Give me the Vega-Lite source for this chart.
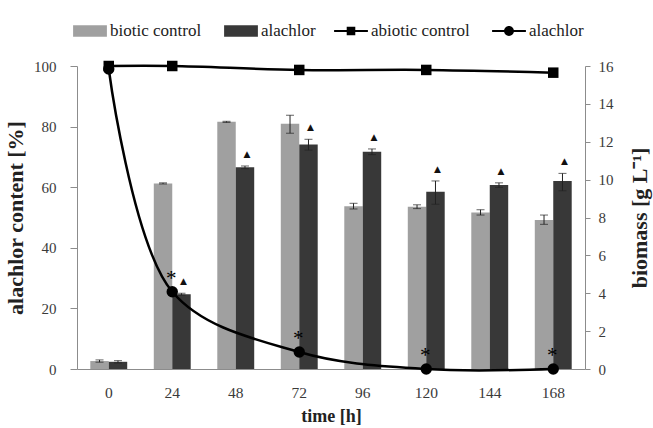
{
  "$schema": "https://vega.github.io/schema/vega-lite/v6.json",
  "autosize": {"type": "none"},
  "padding": {"left": 77, "top": 66, "right": 68, "bottom": 59},
  "width": 508,
  "height": 303,
  "background": "white",
  "config": {
    "view": {"stroke": null},
    "axis": {
      "labelFont": "Liberation Serif",
      "labelFontSize": 15,
      "labelColor": "#3a3a3a",
      "titleFont": "Liberation Serif",
      "titleFontSize": 18,
      "titleFontWeight": "bold",
      "titleColor": "#222222",
      "domainColor": "#8c8c8c",
      "tickColor": "#8c8c8c",
      "grid": false
    },
    "legend": {
      "labelFont": "Liberation Serif",
      "labelFontSize": 17,
      "labelColor": "#222222"
    }
  },
  "datasets": {
    "bars": [
      {"time": 0, "series": "biotic control", "biomass": 0.42, "lo": 0.36, "hi": 0.48, "sig": ""},
      {"time": 0, "series": "alachlor", "biomass": 0.38, "lo": 0.32, "hi": 0.44, "sig": ""},
      {"time": 24, "series": "biotic control", "biomass": 9.8, "lo": 9.77, "hi": 9.83, "sig": ""},
      {"time": 24, "series": "alachlor", "biomass": 3.95, "lo": 3.9, "hi": 4.0, "sig": "▲"},
      {"time": 48, "series": "biotic control", "biomass": 13.05, "lo": 13.02, "hi": 13.08, "sig": ""},
      {"time": 48, "series": "alachlor", "biomass": 10.65, "lo": 10.58, "hi": 10.72, "sig": "▲"},
      {"time": 72, "series": "biotic control", "biomass": 12.95, "lo": 12.45, "hi": 13.4, "sig": ""},
      {"time": 72, "series": "alachlor", "biomass": 11.86, "lo": 11.56, "hi": 12.13, "sig": "▲"},
      {"time": 96, "series": "biotic control", "biomass": 8.6, "lo": 8.45, "hi": 8.75, "sig": ""},
      {"time": 96, "series": "alachlor", "biomass": 11.47, "lo": 11.32, "hi": 11.62, "sig": "▲"},
      {"time": 120, "series": "biotic control", "biomass": 8.57, "lo": 8.47, "hi": 8.67, "sig": ""},
      {"time": 120, "series": "alachlor", "biomass": 9.36, "lo": 8.7, "hi": 9.93, "sig": "▲"},
      {"time": 144, "series": "biotic control", "biomass": 8.27, "lo": 8.13, "hi": 8.41, "sig": ""},
      {"time": 144, "series": "alachlor", "biomass": 9.71, "lo": 9.59, "hi": 9.83, "sig": "▲"},
      {"time": 168, "series": "biotic control", "biomass": 7.87, "lo": 7.64, "hi": 8.13, "sig": ""},
      {"time": 168, "series": "alachlor", "biomass": 9.93, "lo": 9.41, "hi": 10.33, "sig": "▲"}
    ],
    "lines": [
      {"time": 0, "series": "abiotic control", "content": 100, "sig": ""},
      {"time": 24, "series": "abiotic control", "content": 100, "sig": ""},
      {"time": 72, "series": "abiotic control", "content": 98.7, "sig": ""},
      {"time": 120, "series": "abiotic control", "content": 98.7, "sig": ""},
      {"time": 168, "series": "abiotic control", "content": 97.8, "sig": ""},
      {"time": 0, "series": "alachlor", "content": 99, "sig": ""},
      {"time": 24, "series": "alachlor", "content": 25.5, "sig": "*"},
      {"time": 72, "series": "alachlor", "content": 5.6, "sig": "*"},
      {"time": 120, "series": "alachlor", "content": 0, "sig": "*"},
      {"time": 168, "series": "alachlor", "content": 0, "sig": "*"}
    ]
  },
  "encoding": {
    "x": {
      "field": "time",
      "type": "ordinal",
      "scale": {"type": "band", "domain": [0, 24, 48, 72, 96, 120, 144, 168], "paddingInner": 0, "paddingOuter": 0},
      "axis": {"title": "time [h]", "labelAngle": 0, "ticks": false, "labelPadding": 16, "titlePadding": 7, "labelFont": "Liberation Serif", "labelFontSize": 15.5}
    }
  },
  "layer": [
    {
      "data": {"name": "bars"},
      "encoding": {
        "y": {
          "type": "quantitative",
          "scale": {"domain": [0, 16], "nice": false},
          "axis": {"orient": "right", "title": "biomass [g L⁻¹]", "titleFontSize": 22, "values": [0, 2, 4, 6, 8, 10, 12, 14, 16], "titleAngle": 270, "titlePadding": 38, "tickSize": 5, "labelPadding": 8, "labelFont": "Liberation Serif"}
        },
        "xOffset": {"field": "series", "type": "nominal", "scale": {"domain": ["biotic control", "alachlor"], "paddingOuter": 0.72, "paddingInner": 0}}
      },
      "layer": [
        {
          "mark": {"type": "bar"},
          "encoding": {
            "y": {"field": "biomass"},
            "color": {
              "field": "series",
              "type": "nominal",
              "scale": {"domain": ["biotic control", "alachlor"], "range": ["#a0a0a0", "#383838"]},
              "legend": {
                "title": null,
                "orient": "none",
                "legendX": 0,
                "legendY": -48,
                "direction": "horizontal",
                "symbolType": "M-1.3,-0.45H1.3V0.45H-1.3Z",
                "symbolSize": 676,
                "symbolStrokeWidth": 0,
                "labelOffset": 7,
                "columnPadding": 22,
                "labelFont": "Liberation Serif",
                "labelFontSize": 17
              }
            }
          }
        },
        {
          "mark": {"type": "rule", "color": "#222222", "strokeWidth": 1},
          "encoding": {"y": {"field": "lo"}, "y2": {"field": "hi"}}
        },
        {
          "mark": {"type": "tick", "color": "#222222", "thickness": 1, "size": 8, "orient": "horizontal"},
          "encoding": {"y": {"field": "lo"}}
        },
        {
          "mark": {"type": "tick", "color": "#222222", "thickness": 1, "size": 8, "orient": "horizontal"},
          "encoding": {"y": {"field": "hi"}}
        },
        {
          "mark": {"type": "text", "font": "DejaVu Sans", "fontSize": 9, "baseline": "bottom", "dy": -7, "dx": 2, "color": "#111111"},
          "encoding": {"y": {"field": "hi"}, "text": {"field": "sig"}}
        }
      ]
    },
    {
      "data": {"name": "lines"},
      "encoding": {
        "y": {
          "field": "content",
          "type": "quantitative",
          "scale": {"domain": [0, 100], "nice": false},
          "axis": {"orient": "left", "title": "alachlor content [%]", "titleFontSize": 22, "values": [0, 20, 40, 60, 80, 100], "tickSize": 7, "labelPadding": 14, "titlePadding": 6, "labelFont": "Liberation Serif"}
        }
      },
      "layer": [
        {
          "mark": {"type": "point", "opacity": 0, "filled": true, "color": "black"},
          "encoding": {
            "shape": {
              "field": "series",
              "type": "nominal",
              "scale": {
                "domain": ["abiotic control", "alachlor"],
                "range": [
                  "M-1.3,-0.07H1.3V0.07H-1.3Z M-0.33,-0.33H0.33V0.33H-0.33Z",
                  "M-1.3,-0.07H1.3V0.07H-1.3Z M-0.38,0A0.38,0.38,0,1,1,0.38,0A0.38,0.38,0,1,1,-0.38,0Z"
                ]
              },
              "legend": {
                "title": null,
                "orient": "none",
                "legendX": 261,
                "legendY": -48,
                "direction": "horizontal",
                "symbolSize": 676,
                "symbolFillColor": "black",
                "symbolStrokeWidth": 0,
                "symbolOpacity": 1,
                "labelOffset": 7,
                "columnPadding": 22,
                "labelFont": "Liberation Serif",
                "labelFontSize": 17
              }
            }
          }
        },
        {
          "mark": {"type": "line", "color": "black", "strokeWidth": 2.5, "interpolate": "catmull-rom"},
          "encoding": {"detail": {"field": "series", "type": "nominal"}}
        },
        {
          "transform": [{"filter": "datum.series === 'abiotic control'"}],
          "mark": {"type": "point", "shape": "square", "filled": true, "color": "black", "opacity": 1, "size": 110},
          "encoding": {}
        },
        {
          "transform": [{"filter": "datum.series === 'alachlor'"}],
          "mark": {"type": "point", "shape": "circle", "filled": true, "color": "black", "opacity": 1, "size": 130},
          "encoding": {}
        },
        {
          "mark": {"type": "text", "font": "Liberation Serif", "fontSize": 21, "baseline": "middle", "dy": -13, "dx": -1, "color": "#000000"},
          "encoding": {"text": {"field": "sig"}}
        }
      ]
    }
  ],
  "resolve": {"scale": {"y": "independent"}}
}
